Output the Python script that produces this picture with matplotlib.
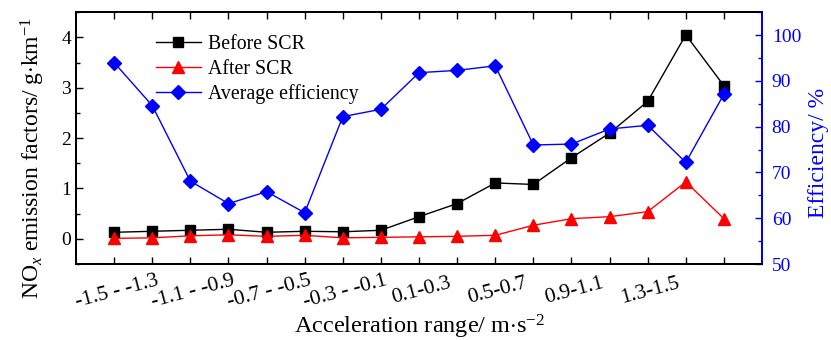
import numpy as np
import matplotlib.pyplot as plt
from matplotlib.ticker import MultipleLocator
from matplotlib.transforms import ScaledTranslation

plt.rcParams['font.family'] = ['Liberation Serif', 'DejaVu Serif']
plt.rcParams['mathtext.fontset'] = 'custom'
plt.rcParams['mathtext.rm'] = 'Liberation Serif'
plt.rcParams['mathtext.it'] = 'Liberation Serif:italic'

# ----------------------------
# data
# ----------------------------
tick_labels = ["-1.5 - -1.3", "-1.1 - -0.9", "-0.7 - -0.5", "-0.3 - -0.1",
               "0.1-0.3", "0.5-0.7", "0.9-1.1", "1.3-1.5"]
before_scr = [0.13, 0.15, 0.17, 0.19, 0.13, 0.15, 0.14, 0.17, 0.44,
              0.70, 1.11, 1.08, 1.61, 2.10, 2.73, 4.05, 3.04]
after_scr = [0.01, 0.02, 0.06, 0.08, 0.05, 0.07, 0.02, 0.03, 0.04,
             0.05, 0.07, 0.27, 0.40, 0.44, 0.54, 1.13, 0.40]
efficiency = [94.0, 84.6, 68.1, 63.2, 65.8, 61.2, 82.2, 83.8, 91.8,
              92.3, 93.3, 76.0, 76.2, 79.5, 80.3, 72.2, 87.1]

x = np.arange(len(before_scr))

fig = plt.figure(figsize=(8.31, 3.40), dpi=100)
ax = fig.add_axes([0.0915, 0.2235, 0.8255, 0.7405])
ax2 = ax.twinx()

l1, = ax.plot(x, before_scr, color='black', lw=1.0, marker='s', ms=7,
              markerfacecolor='black', markeredgecolor='black', label='Before SCR', zorder=3)
l2, = ax.plot(x, after_scr, color='red', lw=1.0, marker='^', ms=8.5,
              markerfacecolor='red', markeredgecolor='red', label='After SCR', zorder=3)
l3, = ax2.plot(x, efficiency, color='blue', lw=1.0, marker='D', ms=7,
               markerfacecolor='blue', markeredgecolor='blue', label='Average efficiency', zorder=3)

ax.set_xlim(-1, len(x))
ax.set_ylim(-0.5, 4.5)
ax2.set_ylim(50, 105)

# labels only on every other category, last one left blank
ax.set_xticks(x)
labels = [""] * len(x)
for i, lab in enumerate(tick_labels):
    labels[2 * i] = lab
ax.set_xticklabels(labels, rotation=15, ha='center', rotation_mode='anchor', fontsize=15.5)
shift = ScaledTranslation(-4 / 100, 0, fig.dpi_scale_trans)
for t in ax.get_xticklabels():
    t.set_transform(t.get_transform() + shift)

ax.yaxis.set_major_locator(MultipleLocator(1))
ax.yaxis.set_minor_locator(MultipleLocator(0.5))
ax2.set_yticks([50, 60, 70, 80, 90, 100])
ax2.yaxis.set_minor_locator(MultipleLocator(5))

ax.tick_params(axis='x', direction='in', top=True, length=5, width=1, pad=13)
ax.tick_params(axis='y', which='major', direction='in', length=5, width=1, labelsize=14)
ax.tick_params(axis='y', which='minor', direction='in', length=3, width=1)
ax2.tick_params(axis='y', which='major', direction='in', length=5, width=1, labelsize=14,
                colors='blue', pad=7)
ax2.tick_params(axis='y', which='minor', direction='in', length=3, width=1, colors='blue')

for sp in ax.spines.values():
    sp.set_linewidth(1.4)
for sp in ax2.spines.values():
    sp.set_linewidth(1.4)
ax2.spines['right'].set_color('blue')

ax.set_ylabel(r"NO$_{\mathit{x}}$ emission factors/ g$\cdot$km$^{-1}$", fontsize=17)
ax.yaxis.set_label_coords(-0.043, 0.42)
ax.set_xlabel(r"Acceleration range/ m$\cdot$s$^{-2}$", fontsize=17.5)
ax.xaxis.set_label_coords(0.5, -0.195)
ax2.set_ylabel("Efficiency/ %", fontsize=17, color='blue')
ax2.yaxis.set_label_coords(1.067, 0.44)

ax.legend(handles=[l1, l2, l3], loc='upper left', bbox_to_anchor=(0.087, 0.99),
          frameon=False, fontsize=14.3, handlelength=2.3, handletextpad=0.35,
          labelspacing=0.3, borderaxespad=0.6)

fig.savefig("out.png", dpi=100)
